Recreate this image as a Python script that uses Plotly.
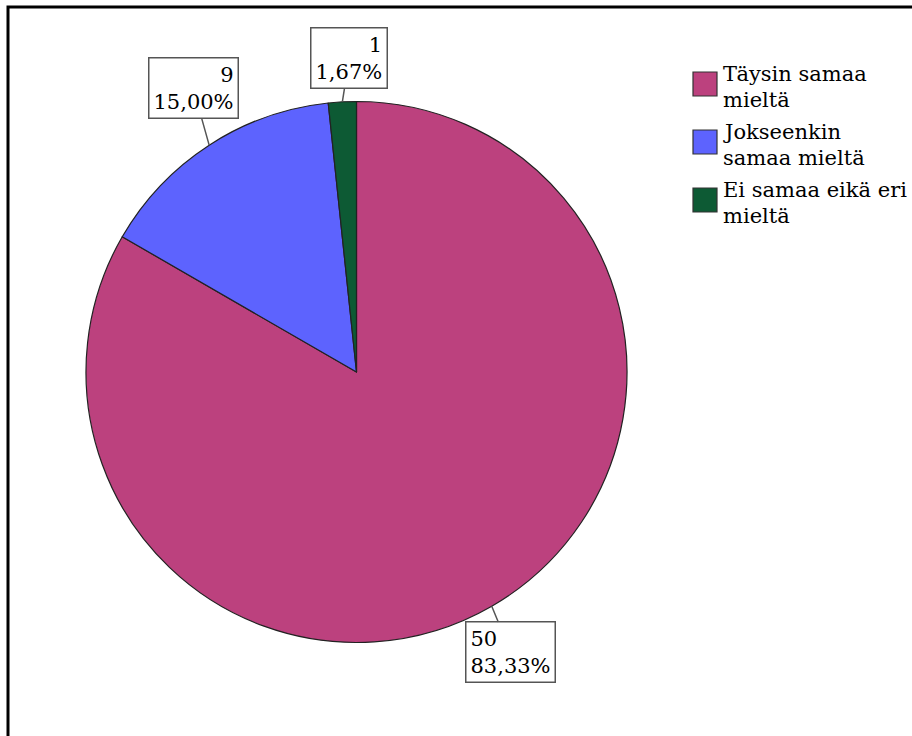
import math
import plotly.graph_objects as go

# ---- data ----
categories = ["Täysin samaa mieltä", "Jokseenkin samaa mieltä", "Ei samaa eikä eri mieltä"]
counts = [50, 9, 1]
legend_lines = [["Täysin samaa", "mieltä"], ["Jokseenkin", "samaa mieltä"], ["Ei samaa eikä eri", "mieltä"]]

# ---- style ----
colors = ["#BC417E", "#5D63FE", "#0D5A34"]
label_offsets = [(19, 46), (-16, -57), (7, -44)]   # box centre offset from slice edge, px
label_align = ["left", "right", "right"]
FONT = "DejaVu Serif"

W, H = 912, 736
cx, cy, R = 356.5, 372.0, 270.5  # pie centre / radius in px

total = sum(counts)
dom_x = [(cx - R) / W, (cx + R) / W]
dom_y = [1 - (cy + R) / H, 1 - (cy - R) / H]

fig = go.Figure(go.Pie(
    labels=categories, values=counts, sort=False, direction="clockwise", rotation=0,
    marker=dict(colors=colors, line=dict(color="#222222", width=1.2)),
    textinfo="none", showlegend=False, domain=dict(x=dom_x, y=dom_y),
))

annotations = []
shapes = []
cum = 0
for i, v in enumerate(counts):
    mid = (cum + v / 2) / total * 2 * math.pi
    cum += v
    ex = cx + R * math.sin(mid)
    ey = cy - R * math.cos(mid)
    pct = f"{v / total * 100:.2f}".replace(".", ",") + "%"
    ax, ay = label_offsets[i]
    annotations.append(dict(
        x=ex / W, y=1 - ey / H, xref="paper", yref="paper",
        text=f"{v}<br>{pct}", align=label_align[i],
        showarrow=True, arrowhead=0, arrowwidth=1.5, arrowcolor="#555555",
        ax=ax, ay=ay, font=dict(family=FONT, size=21, color="black"),
        bgcolor="white", bordercolor="#555555", borderwidth=1.5, borderpad=4,
    ))

# manual legend
for i, lines in enumerate(legend_lines):
    top = 72 + 58 * i
    shapes.append(dict(type="rect", xref="paper", yref="paper",
                       x0=693 / W, x1=717 / W, y0=1 - top / H, y1=1 - (top + 24) / H,
                       fillcolor=colors[i], line=dict(color="#333333", width=1.2)))
    for j, line in enumerate(lines):
        yc = top + 2 + 26 * j
        annotations.append(dict(
            x=721 / W, y=1 - yc / H, xref="paper", yref="paper", xanchor="left", yanchor="middle",
            text=line, showarrow=False, font=dict(family=FONT, size=21, color="black"),
        ))

# outer frame
shapes.append(dict(type="rect", xref="paper", yref="paper",
                   x0=8 / W, y0=1 - 7 / H, x1=1.05, y1=-0.05,
                   line=dict(color="black", width=3), fillcolor="rgba(0,0,0,0)"))

fig.update_layout(
    width=W, height=H, margin=dict(l=0, r=0, t=0, b=0),
    paper_bgcolor="white", plot_bgcolor="white",
    annotations=annotations, shapes=shapes,
)

fig.write_html("out.html", config={"displayModeBar": False},
               post_script="document.body.style.margin='0';")
